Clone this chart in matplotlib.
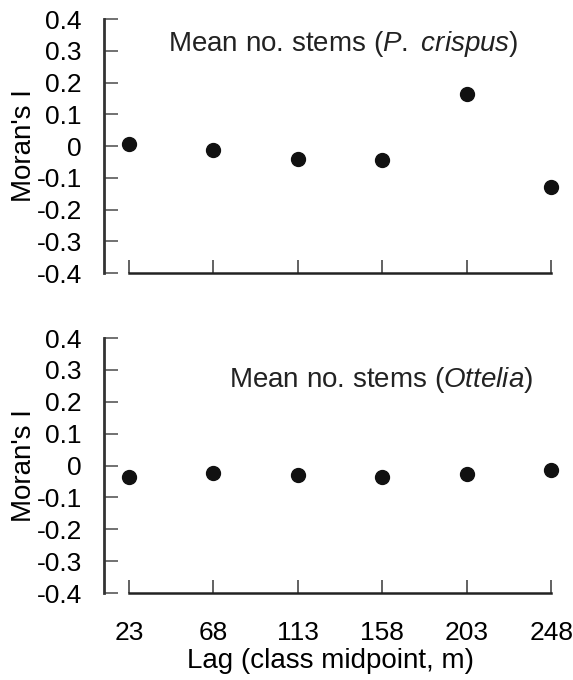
import matplotlib.pyplot as plt

plt.rcParams['font.family'] = ['Liberation Sans', 'DejaVu Sans']
plt.rcParams['mathtext.fontset'] = 'custom'
plt.rcParams['mathtext.rm'] = 'Liberation Sans'
plt.rcParams['mathtext.it'] = 'Liberation Sans:italic'

lags = [23, 68, 113, 158, 203, 248]
moran_crispus = [0.005, -0.011, -0.042, -0.045, 0.163, -0.130]
moran_ottelia = [-0.035, -0.023, -0.030, -0.036, -0.027, -0.015]
yticks = [-0.4, -0.3, -0.2, -0.1, 0, 0.1, 0.2, 0.3, 0.4]
ytick_labels = ['-0.4', '-0.3', '-0.2', '-0.1', '0', '0.1', '0.2', '0.3', '0.4']

fig = plt.figure(figsize=(5.73, 6.80), dpi=100)
ax_top = fig.add_axes([0.1815, 0.5985, 0.7838, 0.3735])
ax_bot = fig.add_axes([0.1815, 0.1279, 0.7838, 0.375])

# (axes, values, panel title, title right edge in data x, title height in axes fraction)
panels = [
    (ax_top, moran_crispus, r'Mean no. stems ($\it{P.}$ $\it{crispus}$)', 230.4, 0.90),
    (ax_bot, moran_ottelia, r'Mean no. stems ($\it{Ottelia}$)', 238.5, 0.835),
]

for ax, vals, title, tx, ty in panels:
    ax.plot(lags, vals, 'o', color='#111111', ms=10, clip_on=False)
    ax.set_xlim(9.7, 249)
    ax.set_ylim(-0.4, 0.4)
    ax.set_xticks(lags)
    ax.set_yticks(yticks)
    ax.set_yticklabels(ytick_labels)
    for side in ['top', 'right']:
        ax.spines[side].set_visible(False)
    ax.spines['left'].set_bounds(-0.4, 0.4)
    ax.spines['left'].set_color('#333333')
    ax.spines['left'].set_linewidth(2)
    ax.spines['bottom'].set_bounds(23, 248)
    ax.spines['bottom'].set_color('#222222')
    ax.spines['bottom'].set_linewidth(1.8)
    ax.tick_params(axis='y', direction='in', length=10, width=1.3,
                   color='#666666', labelsize=19, pad=16)
    ax.tick_params(axis='x', direction='in', length=9.5, width=1.3,
                   color='#555555', labelsize=19, pad=20)
    ax.set_ylabel("Moran's I", fontsize=20)
    ax.yaxis.set_label_coords(-0.15, 0.5)
    ax.text(tx, -0.4 + ty * 0.8, title, ha='right', va='center',
            fontsize=20, color='#222222')

ax_top.set_xticklabels([])
ax_bot.set_xlabel('Lag (class midpoint, m)', fontsize=20)
ax_bot.xaxis.set_label_coords(0.505, -0.215)

fig.savefig('out.png', dpi=100)
